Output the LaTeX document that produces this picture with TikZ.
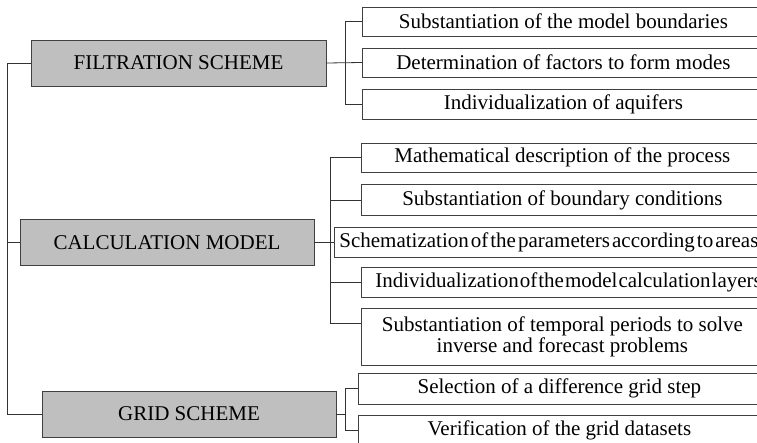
\documentclass[tikz,border=0pt]{standalone}
\usepackage{fontspec}
\setmainfont{Liberation Serif}
\tikzset{
    mainbox/.style = {draw=black!75, fill=black!25, line width=0.8pt, minimum width=295pt, minimum height=46pt, inner sep=0pt, font=\fontsize{21}{21}\selectfont},
    subbox/.style = {draw=black!75, fill=white, line width=0.8pt, anchor=west, minimum width=402pt, minimum height=30pt, inner sep=0pt, align=center, font=\fontsize{21}{21}\selectfont},
    link/.style = {draw=black!80, line width=0.8pt}
}
\begin{document}
\begin{tikzpicture}[x=1pt, y=-1pt]
        \useasboundingbox (0,0) rectangle (757,442);
        \clip (0,0) rectangle (757,442);
        \node[mainbox] (filt) at (178.5,63) {FILTRATION SCHEME};
        \node[mainbox, minimum width=294pt] (calc) at (167,242.5) {CALCULATION MODEL};
        \node[mainbox, minimum width=294pt] (grid) at (189,414) {GRID SCHEME};
        \node[subbox, minimum height=29pt] (F1) at (362,21.5) {Substantiation of the model boundaries};
        \node[subbox, minimum height=29pt] (F2) at (362,62.5) {Determination of factors to form modes};
        \node[subbox] (F3) at (362,104) {Individualization of aquifers};
        \node[subbox, minimum height=29pt] (C1) at (361,157.5) {Mathematical description of the process};
        \node[subbox, minimum height=31pt] (C2) at (361,200) {Substantiation of boundary conditions};
        \node[subbox, minimum width=0pt, inner xsep=5pt] (C3) at (334,242.5) {\spaceskip=2pt\relax Schematization of the parameters according to areas};
        \node[subbox, minimum width=0pt, inner xsep=14pt] (C4) at (361,282) {\spaceskip=1pt\relax Individualization of the model calculation layers};
        \node[subbox, minimum height=57pt] (C5) at (361,336.5) {Substantiation of temporal periods to solve\\inverse and forecast problems};
        \node[subbox, minimum height=31pt] (G1) at (358,388.5) {Selection of a difference grid step};
        \node[subbox, minimum height=31pt] (G2) at (358,430.5) {Verification of the grid datasets};
        \coordinate (trunk) at (7,0);
        \coordinate (fb) at (345,0);
        \coordinate (cb) at (330,0);
        \coordinate (gb) at (345,0);
        \coordinate (c5tick) at (361,323);
        \draw[link] (filt.west) -- (filt.west -| trunk) |- (grid.west);
        \draw[link] (calc.west) -- (calc.west -| trunk);
        \draw[link] (filt.east) -- (F2.west);
        \draw[link] (F1.west) -- (F1.west -| fb) -- (F3.west -| fb) -- (F3.west);
        \draw[link] (calc.east) -- (C3.west);
        \draw[link] (C1.west) -- (C1.west -| cb) -- (c5tick -| cb) -- (c5tick);
        \draw[link] (C2.west) -- (C2.west -| cb);
        \draw[link] (C4.west) -- (C4.west -| cb);
        \draw[link] (grid.east) -- (grid.east -| gb);
        \draw[link] (G1.west) -- (G1.west -| gb) -- (G2.west -| gb) -- (G2.west);
    \end{tikzpicture}
\end{document}
